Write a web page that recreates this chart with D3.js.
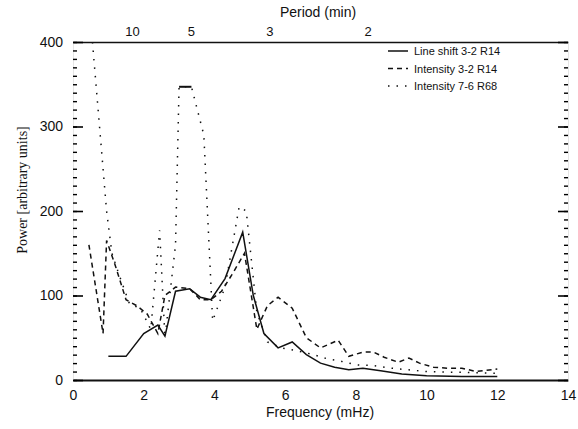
<!DOCTYPE html>
<html>
<head>
<meta charset="utf-8">
<script src="https://cdn.jsdelivr.net/npm/d3@7"></script>
<style>
	body { margin: 0; background: #fff; }
	text { font-family: 'Liberation Sans', Arial, sans-serif; fill: #111; }
</style>
</head>
<body>
<div id="chart"></div>
<script>
//данные
var lineShiftF = [1.0, 1.5, 2.0, 2.4, 2.6, 2.9, 3.3, 3.6, 3.9, 4.3, 4.8, 5.1, 5.4, 5.8, 6.2, 6.6, 7.0, 7.4, 7.8, 8.2, 8.7, 9.3, 10.0, 11.0, 12.0];
var lineShiftV = [28, 28, 55, 65, 52, 105, 108, 98, 95, 120, 175, 100, 55, 38, 45, 30, 20, 15, 12, 14, 11, 7, 5, 4, 4];

var int32F = [0.45, 0.85, 0.95, 1.2, 1.5, 1.8, 2.1, 2.4, 2.6, 2.9, 3.3, 3.6, 3.9, 4.2, 4.5, 4.85, 5.2, 5.5, 5.8, 6.2, 6.6, 7.0, 7.5, 7.8, 8.2, 8.5, 8.8, 9.2, 9.5, 9.8, 10.2, 10.6, 11.0, 11.4, 12.0];
var int32V = [160, 55, 165, 135, 95, 88, 78, 55, 100, 110, 108, 95, 95, 105, 125, 150, 60, 88, 98, 85, 50, 38, 47, 28, 33, 33, 27, 21, 26, 20, 15, 14, 14, 10, 13];

var int76F = [0.55, 0.75, 0.95, 1.1, 1.3, 1.6, 1.9, 2.2, 2.45, 2.6, 2.9, 3.0, 3.35, 3.7, 3.95, 4.3, 4.7, 4.9, 5.2, 5.5, 5.9, 6.3, 6.8, 7.2, 7.6, 8.0, 8.5, 9.0, 9.5, 10.0, 11.0, 12.0];
var int76V = [400, 300, 200, 150, 125, 90, 85, 60, 177, 50, 160, 347, 347, 290, 70, 110, 205, 200, 80, 45, 38, 35, 30, 25, 22, 18, 17, 14, 12, 10, 9, 8];

var xTicks = [0, 2, 4, 6, 8, 10, 12, 14];
var yTicks = [0, 100, 200, 300, 400];
var periodTicks = [10, 5, 3, 2];
var legendLabels = ['Line shift 3-2 R14', 'Intensity 3-2 R14', 'Intensity 7-6 R68'];

svgWidth = 578;
svgHeight = 429;

x = d3.scaleLinear().domain([0, 14]).range([73, 568]);
y = d3.scaleLinear().domain([0, 400]).range([380, 42]);

chartArea = d3.select('#chart')
	.append('svg')
	.attr('width', svgWidth)
	.attr('height', svgHeight)
;

//оси
chartArea.append('g')
	.attr('transform', 'translate(0,' + y(0) + ')')
	.call(d3.axisBottom(x).tickValues(xTicks).tickSize(0).tickPadding(10).tickFormat(d3.format('d')))
	.call(function(g){
		g.select('.domain').attr('stroke', '#111').attr('stroke-width', 2.2);
		g.selectAll('text').style('font-size', '14px');
	})
;

chartArea.append('g')
	.attr('transform', 'translate(0,' + y(400) + ')')
	.call(d3.axisTop(x).tickValues(periodTicks.map(function(p){ return 1000 / (p * 60); })).tickSize(0).tickPadding(6)
		.tickFormat(function(d, i){ return periodTicks[i]; }))
	.call(function(g){
		g.select('.domain').attr('stroke', '#111').attr('stroke-width', 1.6);
		g.selectAll('text').style('font-size', '13px');
	})
;

//малые деления слева и справа
minor = d3.range(0, 401, 10);
chartArea.append('g')
	.attr('transform', 'translate(' + x(0) + ',0)')
	.call(d3.axisRight(y).tickValues(minor).tickSize(4).tickFormat(''))
	.call(function(g){
		g.select('.domain').attr('stroke', '#ccc').attr('stroke-width', 0.5);
		g.selectAll('line').attr('stroke-width', 1.4);
	})
;
chartArea.append('g')
	.attr('transform', 'translate(' + x(0) + ',0)')
	.call(d3.axisRight(y).tickValues(yTicks).tickSize(10).tickFormat(''))
	.call(function(g){
		g.select('.domain').remove();
		g.selectAll('line').attr('stroke-width', 1.6);
	})
;
chartArea.append('g')
	.attr('transform', 'translate(' + x(0) + ',0)')
	.call(d3.axisLeft(y).tickValues(yTicks).tickSize(0).tickPadding(10))
	.call(function(g){
		g.select('.domain').remove();
		g.selectAll('text').style('font-size', '14px');
	})
;
chartArea.append('g')
	.attr('transform', 'translate(' + x(14) + ',0)')
	.call(d3.axisLeft(y).tickValues(minor).tickSize(4).tickFormat(''))
	.call(function(g){
		g.select('.domain').attr('stroke', '#ccc').attr('stroke-width', 0.5);
		g.selectAll('line').attr('stroke-width', 1.4);
	})
;
chartArea.append('g')
	.attr('transform', 'translate(' + x(14) + ',0)')
	.call(d3.axisLeft(y).tickValues(yTicks).tickSize(10).tickFormat(''))
	.call(function(g){
		g.select('.domain').remove();
		g.selectAll('line').attr('stroke-width', 1.6);
	})
;

//подписи осей
chartArea.append('text')
	.attr('x', 320)
	.attr('y', 417)
	.attr('text-anchor', 'middle')
	.style('font-size', '14px')
	.text('Frequency (mHz)')
;
chartArea.append('text')
	.attr('x', 318)
	.attr('y', 17)
	.attr('text-anchor', 'middle')
	.style('font-size', '14px')
	.text('Period (min)')
;
chartArea.append('text')
	.attr('transform', 'translate(27,190) rotate(-90)')
	.attr('text-anchor', 'middle')
	.style('font-family', "'Liberation Serif', serif")
	.style('font-size', '14px')
	.text('Power [arbitrary units]')
;

//линии
plot = chartArea.append('g');
line = d3.line()
	.x(function(d){ return x(d[0]); })
	.y(function(d){ return y(d[1]); })
;
series = [
	{f: lineShiftF, v: lineShiftV, dash: null},
	{f: int32F, v: int32V, dash: '5,4'},
	{f: int76F, v: int76V, dash: '1.5,7'}
];
series.forEach(function(s){
	plot.append('path')
		.datum(d3.zip(s.f, s.v))
		.attr('d', line)
		.attr('fill', 'none')
		.attr('stroke', '#111')
		.attr('stroke-width', 1.5)
		.attr('stroke-dasharray', s.dash)
	;
});

//плато на 7-6 выглядит сплошным
plot.append('path')
	.datum(d3.zip(int76F.slice(11, 13), int76V.slice(11, 13)))
	.attr('d', line)
	.attr('fill', 'none')
	.attr('stroke', '#111')
	.attr('stroke-width', 2)
;

//легенда
legend = chartArea.append('g');
series.forEach(function(s, i){
	ly = 51 + i * 17.5;
	legend.append('line')
		.attr('x1', 388).attr('x2', 408)
		.attr('y1', ly).attr('y2', ly)
		.attr('stroke', '#111')
		.attr('stroke-width', 1.5)
		.attr('stroke-dasharray', s.dash)
	;
	legend.append('text')
		.attr('x', 414)
		.attr('y', ly + 4)
		.style('font-size', '11px')
		.text(legendLabels[i])
	;
});
</script>
</body>
</html>
